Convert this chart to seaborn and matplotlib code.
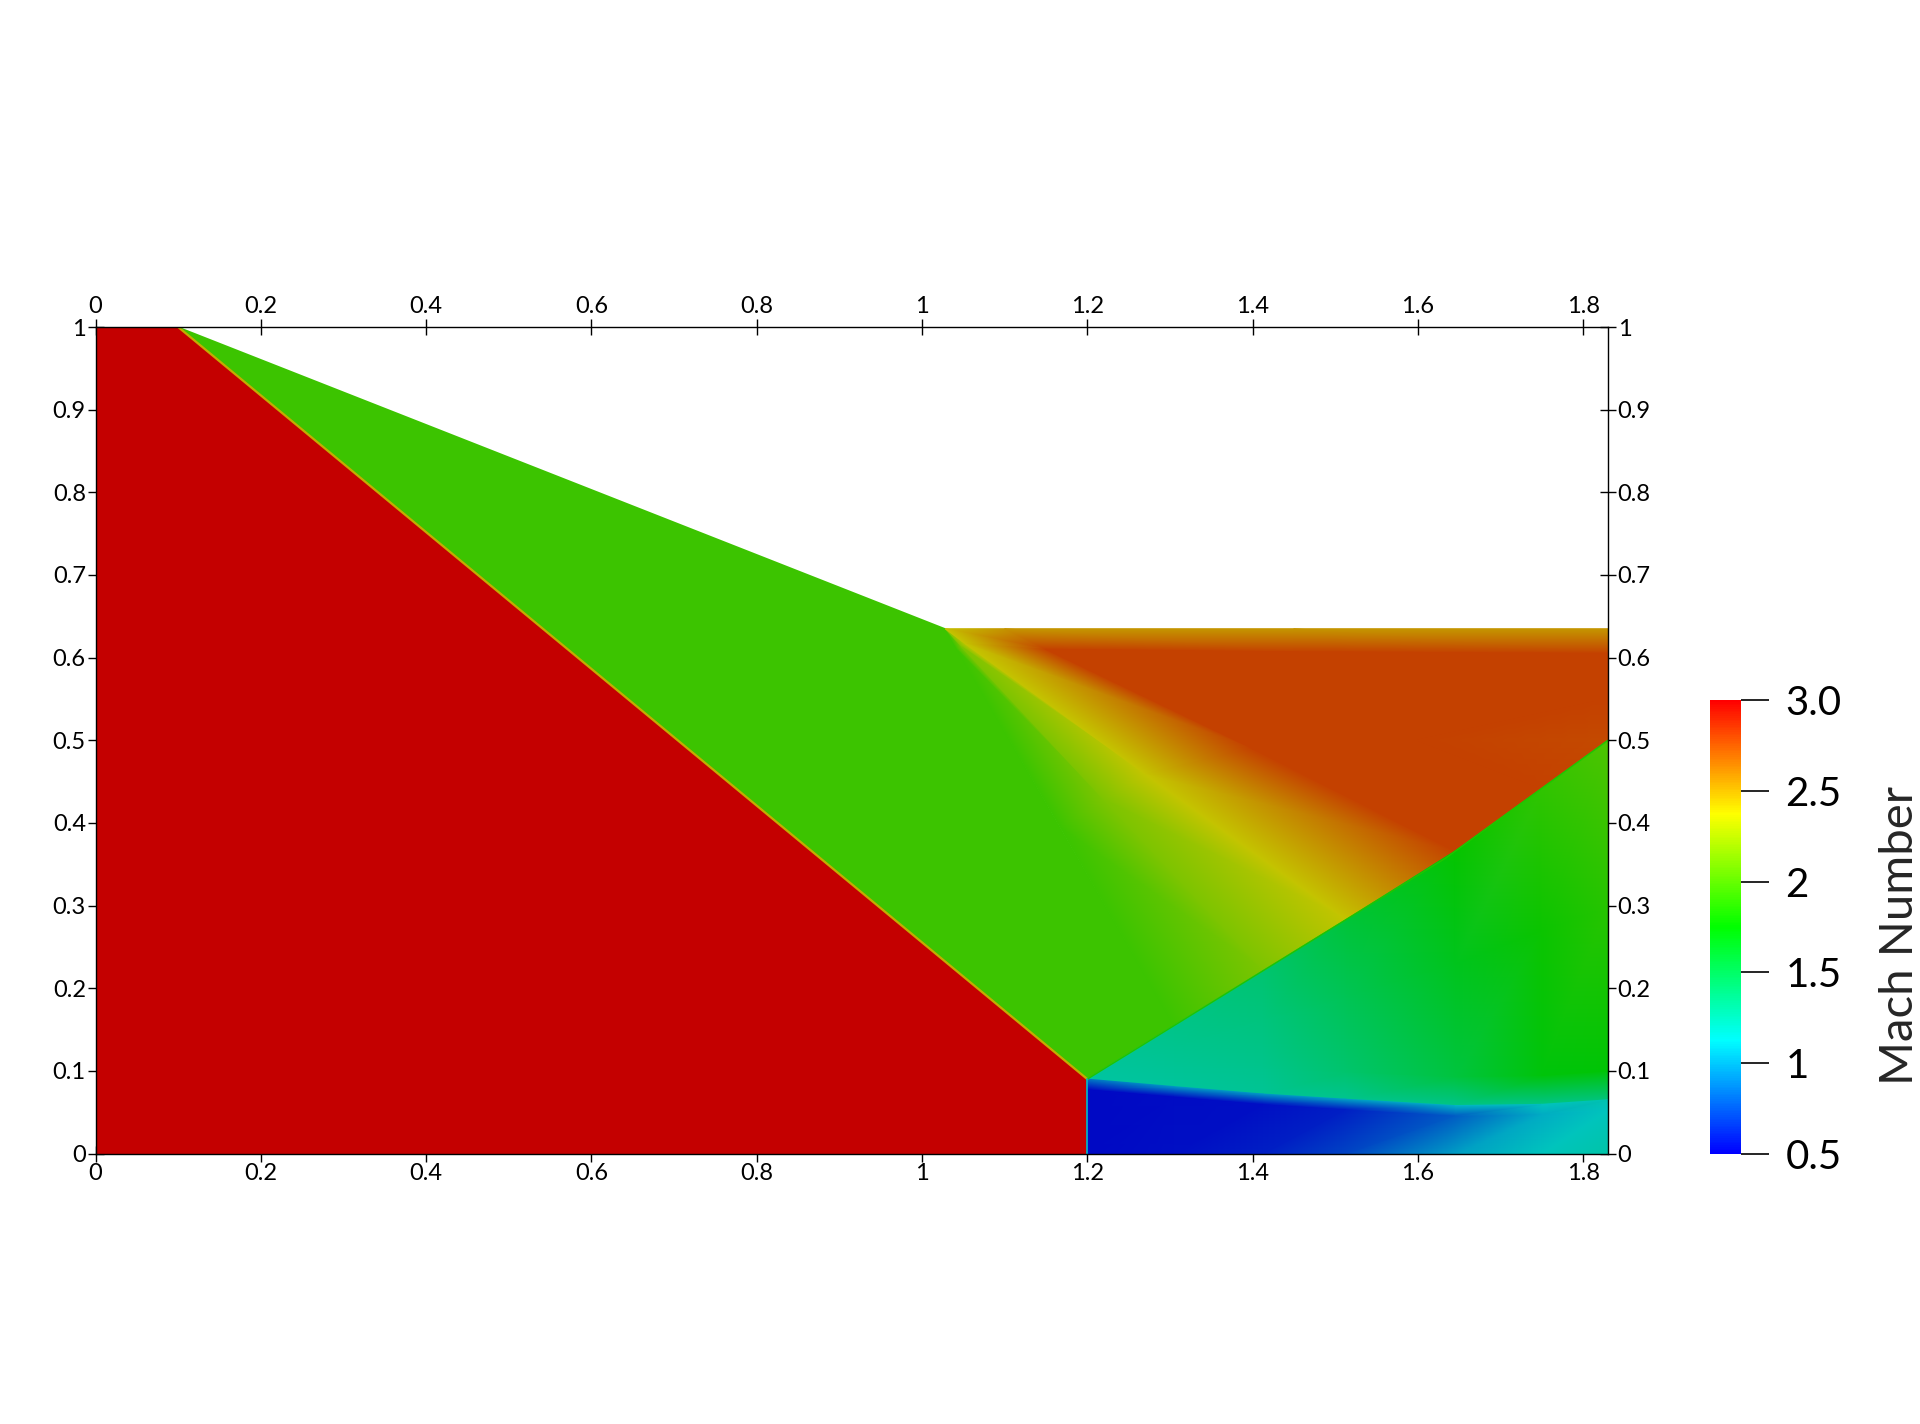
import numpy as np
import matplotlib
matplotlib.use("Agg")
import matplotlib.pyplot as plt
import matplotlib.tri as mtri
from matplotlib.colors import Normalize, to_rgb
import seaborn as sns

sns.set_style("white")
plt.rcParams["font.family"] = ["Lato", "DejaVu Sans"]

# colour scale
mach_min, mach_max = 0.5, 3.0
cbar_ticks = [0.5, 1.0, 1.5, 2.0, 2.5, 3.0]
cbar_labels = ["0.5", "1", "1.5", "2", "2.5", "3.0"]
rainbow = ["#0000ff", "#00ffff", "#00ff00", "#ffff00", "#ff0000"]

# axis ticks
x_ticks = [0, 0.2, 0.4, 0.6, 0.8, 1.0, 1.2, 1.4, 1.6, 1.8]
x_labels = ["0", "0.2", "0.4", "0.6", "0.8", "1", "1.2", "1.4", "1.6", "1.8"]
y_ticks = [0, 0.1, 0.2, 0.3, 0.4, 0.5, 0.6, 0.7, 0.8, 0.9, 1.0]
y_labels = ["0", "0.1", "0.2", "0.3", "0.4", "0.5", "0.6", "0.7", "0.8", "0.9", "1"]
x_end = 1.83

# free stream zone (uniform Mach)
inlet_x = [0.0, 0.0, 0.1, 1.2, 1.2]
inlet_y = [0.0, 1.0, 1.0, 0.09, 0.0]
inlet_mach = 3.0

# zone behind the ramp shock (uniform Mach)
ramp_x = [0.1, 1.028, 1.305, 1.2]
ramp_y = [1.0, 0.635, 0.1548, 0.09]
ramp_mach = 1.94

# expansion fan + upper zone: rows from the wall down to the reflected shock
fan_rows_x = [[1.028, 1.043, 1.167, 1.305],
              [1.028, 1.048, 1.220, 1.413],
              [1.028, 1.052, 1.270, 1.513],
              [1.10, 1.15, 1.40, 1.645],
              [1.45, 1.45, 1.60, 1.75],
              [1.83, 1.83, 1.83, 1.83]]
fan_rows_y = [[0.635, 0.609, 0.395, 0.1548],
              [0.635, 0.613, 0.428, 0.2214],
              [0.635, 0.617, 0.459, 0.283],
              [0.635, 0.610, 0.49, 0.366],
              [0.635, 0.607, 0.50, 0.442],
              [0.635, 0.605, 0.55, 0.5]]
fan_rows_mach = [[1.94, 1.94, 1.94, 1.94],
                 [2.15, 2.15, 2.15, 2.15],
                 [2.37, 2.37, 2.37, 2.37],
                 [2.52, 2.79, 2.79, 2.79],
                 [2.52, 2.79, 2.79, 2.79],
                 [2.52, 2.79, 2.79, 2.76]]

# zone under the reflected shock: columns from slip line up to the shock
core_rows_x = [[1.2] * 4, [1.305] * 4, [1.413] * 4, [1.513] * 4,
               [1.645] * 4, [1.75] * 4, [1.83] * 4]
core_rows_y = [[0.09, 0.09, 0.09, 0.09],
               [0.081, 0.106, 0.130, 0.1548],
               [0.072, 0.104, 0.163, 0.2214],
               [0.0657, 0.099, 0.19, 0.283],
               [0.058, 0.093, 0.23, 0.366],
               [0.0595, 0.0945, 0.27, 0.442],
               [0.065, 0.10, 0.30, 0.5]]
core_rows_mach = [[1.24, 1.24, 1.24, 1.24],
                  [1.26, 1.28, 1.30, 1.32],
                  [1.28, 1.31, 1.35, 1.39],
                  [1.30, 1.40, 1.48, 1.57],
                  [1.32, 1.55, 1.66, 1.76],
                  [1.33, 1.72, 1.78, 1.90],
                  [1.35, 1.74, 1.87, 2.00]]

# subsonic pocket under the slip line: columns from the floor up
pocket_rows_x = [[1.2] * 3, [1.305] * 3, [1.413] * 3, [1.513] * 3,
                 [1.645] * 3, [1.75] * 3, [1.83] * 3]
pocket_rows_y = [[0.0, 0.078, 0.09],
                 [0.0, 0.069, 0.081],
                 [0.0, 0.060, 0.072],
                 [0.0, 0.0537, 0.0657],
                 [0.0, 0.046, 0.058],
                 [0.0, 0.0475, 0.0595],
                 [0.0, 0.053, 0.065]]
pocket_rows_mach = [[0.53, 0.53, 0.90],
                    [0.55, 0.54, 1.00],
                    [0.60, 0.55, 1.00],
                    [0.72, 0.60, 1.02],
                    [1.00, 0.80, 1.08],
                    [1.15, 1.05, 1.15],
                    [1.22, 1.15, 1.20]]

# shock traces
shock_x = [0.1, 1.2, 1.633, 1.83]
shock_y = [1.0, 0.09, 0.357, 0.5]

bar_cmap = sns.blend_palette(rainbow, as_cmap=True)
shade = 0.77
field_cmap = sns.blend_palette([tuple(shade * c for c in to_rgb(h)) for h in rainbow], as_cmap=True)
norm = Normalize(mach_min, mach_max)


def draw_flat(ax, xs, ys, mach):
    tri = mtri.Triangulation(xs, ys)
    ax.tripcolor(tri, np.full(len(xs), mach), cmap=field_cmap, norm=norm, shading="gouraud")


def draw_rows(ax, rx, ry, rm):
    rx, ry, rm = np.asarray(rx, float), np.asarray(ry, float), np.asarray(rm, float)
    nr, nc = rx.shape
    tris = []
    for i in range(nr - 1):
        for j in range(nc - 1):
            a, b = i * nc + j, (i + 1) * nc + j
            c, d = (i + 1) * nc + j + 1, i * nc + j + 1
            tris += [[a, b, c], [a, c, d]]
    tris = np.array(tris)
    x, y = rx.ravel(), ry.ravel()
    area = np.abs((x[tris[:, 1]] - x[tris[:, 0]]) * (y[tris[:, 2]] - y[tris[:, 0]])
                  - (x[tris[:, 2]] - x[tris[:, 0]]) * (y[tris[:, 1]] - y[tris[:, 0]]))
    tris = tris[area > 1e-9]
    tri = mtri.Triangulation(x, y, tris)
    ax.tripcolor(tri, rm.ravel(), cmap=field_cmap, norm=norm, shading="gouraud")


fig = plt.figure(figsize=(19.2, 14.24), dpi=100)
ax = fig.add_axes([95.5 / 1920, 270.5 / 1424, 1512.5 / 1920, 826.5 / 1424])

draw_flat(ax, inlet_x, inlet_y, inlet_mach)
draw_flat(ax, ramp_x, ramp_y, ramp_mach)
draw_rows(ax, fan_rows_x, fan_rows_y, fan_rows_mach)
draw_rows(ax, core_rows_x, core_rows_y, core_rows_mach)
draw_rows(ax, pocket_rows_x, pocket_rows_y, pocket_rows_mach)

ax.plot(shock_x[:2], shock_y[:2], color=field_cmap(norm(2.45)), lw=1.6)
ax.plot(shock_x[1:], shock_y[1:], color=field_cmap(norm(1.85)), lw=1.0)
ax.plot([1.2, 1.2], [0.0, 0.09], color=field_cmap(norm(1.1)), lw=1.2)

ax.set_xlim(0, x_end)
ax.set_ylim(0, 1)
ax.set_xticks(x_ticks)
ax.set_xticklabels(x_labels)
ax.set_yticks(y_ticks)
ax.set_yticklabels(y_labels)
ax.tick_params(axis="x", top=True, bottom=True, labeltop=True, labelbottom=True,
               direction="inout", length=12, width=1, labelsize=17, pad=1, colors="black")
ax.tick_params(axis="y", left=True, right=True, labelleft=True, labelright=True,
               direction="inout", length=12, width=1, labelsize=17, pad=1, colors="black")
for s in ax.spines.values():
    s.set_color("black")
    s.set_linewidth(1.0)
ax.set_facecolor("white")

cax = fig.add_axes([1710 / 1920, 270 / 1424, 31 / 1920, 454 / 1424])
sm = matplotlib.cm.ScalarMappable(norm=norm, cmap=bar_cmap)
cb = fig.colorbar(sm, cax=cax)
cb.set_ticks(cbar_ticks)
cb.set_ticklabels(cbar_labels)
cb.outline.set_visible(False)
cax.tick_params(length=20, width=1.2, labelsize=29, pad=12, direction="out", colors="black")
fig.text(0.9895, 0.343, "Mach Number", rotation=90, ha="center", va="center", fontsize=34)

fig.savefig("out.png", dpi=100, facecolor="white")
